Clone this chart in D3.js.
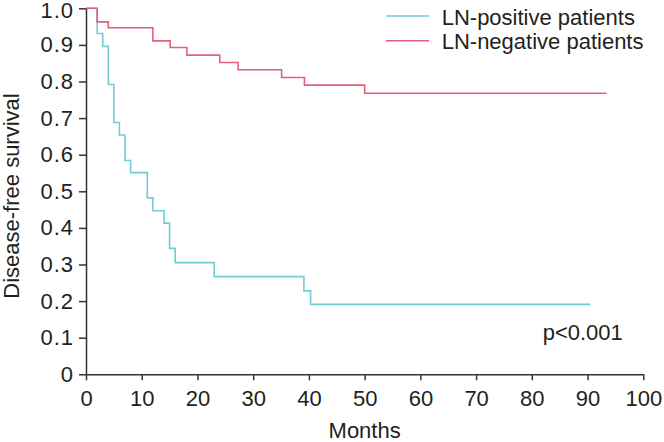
<!DOCTYPE html>
<html>
<head>
<meta charset="utf-8">
<script src="https://cdn.jsdelivr.net/npm/d3@7"></script>
<style>
body { margin: 0; background: #fff; }
svg text { font-family: "Liberation Sans", Arial, sans-serif; fill: #231f20; }
</style>
</head>
<body>
<div id="chart"></div>
<script>
// Kaplan-Meier step data (months, survival)
var posTimes = [0, 2, 3, 4, 5, 6, 7, 8, 11, 12, 14, 15, 16, 23, 39.1, 40.3, 90.5];
var posSurv = [1.0, 0.931, 0.896, 0.792, 0.688, 0.654, 0.584, 0.551, 0.482, 0.447, 0.413, 0.344, 0.305, 0.267, 0.228, 0.191, 0.191];
var negTimes = [0, 2, 4, 12, 15.1, 18.1, 24, 27.3, 35.1, 39.2, 50, 93.4];
var negSurv = [1.0, 0.963, 0.947, 0.911, 0.893, 0.872, 0.852, 0.832, 0.811, 0.790, 0.768, 0.768];
var xTicks = [0, 10, 20, 30, 40, 50, 60, 70, 80, 90, 100];
var yTicks = [0, 0.1, 0.2, 0.3, 0.4, 0.5, 0.6, 0.7, 0.8, 0.9, 1.0];
var seriesNames = ["LN-positive patients", "LN-negative patients"];
var seriesColors = ["#72cdd3", "#e4607a"];

var width = 664, height = 442;
var svg = d3.select("#chart").append("svg")
    .attr("width", width)
    .attr("height", height);

var x = d3.scaleLinear().domain([0, 100]).range([86, 643.3]);
var y = d3.scaleLinear().domain([0, 1]).range([374.3, 8.3]);

// y axis
var yAxis = d3.axisLeft(y)
    .tickValues(yTicks)
    .tickSize(7)
    .tickSizeOuter(0)
    .tickPadding(5)
    .tickFormat(function(d) { return d === 0 ? "0" : d3.format(".1f")(d); });
var gy = svg.append("g").attr("transform", "translate(" + x(0) + ",0)").call(yAxis);

// x axis
var xAxis = d3.axisBottom(x)
    .tickValues(xTicks)
    .tickSize(6)
    .tickSizeOuter(0)
    .tickPadding(10);
var gx = svg.append("g").attr("transform", "translate(0," + y(0) + ")").call(xAxis);

[gx, gy].forEach(function(g) {
    g.selectAll("path, line").attr("stroke", "#333").attr("stroke-width", 1.5);
    g.selectAll("text").style("font-size", "22px").attr("fill", "#231f20")
        .style("font-family", "'Liberation Sans', Arial, sans-serif");
});
gy.selectAll("text").style("letter-spacing", "1px");
// keep the top label inside the frame
gy.selectAll(".tick text").filter(function(d) { return d === 1; }).attr("y", 2);

// axis titles
svg.append("text")
    .attr("x", (x(0) + x(100)) / 2)
    .attr("y", 438)
    .attr("text-anchor", "middle")
    .style("font-size", "22px")
    .text("Months");

svg.append("text")
    .attr("transform", "translate(19," + 196 + ") rotate(-90)")
    .attr("text-anchor", "middle")
    .style("font-size", "22px")
    .text("Disease-free survival");

// curves
var line = d3.line()
    .x(function(d) { return x(d[0]); })
    .y(function(d) { return y(d[1]); })
    .curve(d3.curveStepAfter);

var series = [d3.zip(posTimes, posSurv), d3.zip(negTimes, negSurv)];
series.forEach(function(s, i) {
    svg.append("path")
        .datum(s)
        .attr("d", line)
        .attr("fill", "none")
        .attr("stroke", seriesColors[i])
        .attr("stroke-width", 1.6);
});

// legend
var legendY = [16, 40.7];
seriesNames.forEach(function(name, i) {
    svg.append("line")
        .attr("x1", 386).attr("x2", 429)
        .attr("y1", legendY[i]).attr("y2", legendY[i])
        .attr("stroke", seriesColors[i])
        .attr("stroke-width", 1.6);
    svg.append("text")
        .attr("x", 441.7)
        .attr("y", legendY[i] + 8.7)
        .style("font-size", "22px")
        .text(name);
});

svg.append("text")
    .attr("x", 542.7)
    .attr("y", 340)
    .style("font-size", "22px")
    .text("p<0.001");
</script>
</body>
</html>
